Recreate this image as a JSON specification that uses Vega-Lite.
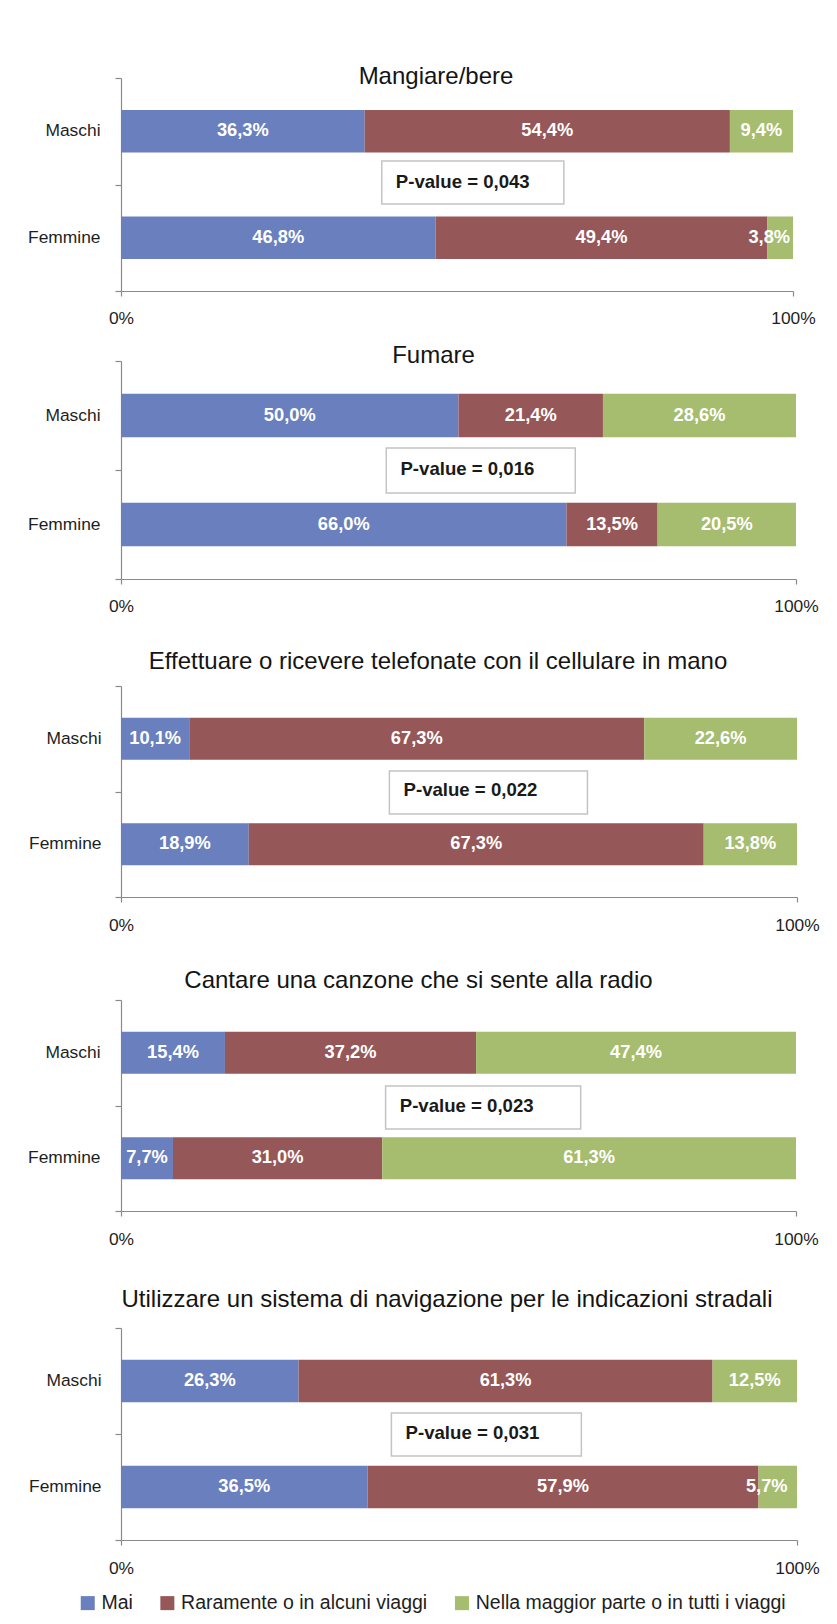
{
"$schema": "https://vega.github.io/schema/vega-lite/v6.json",
"background": "white",
"padding": {"left": 0, "top": 65, "right": 0, "bottom": 0},
"autosize": {"type": "pad"},
"datasets": {
"bars": [
{"q": "Mangiare/bere", "sesso": "Maschi", "risposta": "Mai", "v": 36.3},
{"q": "Mangiare/bere", "sesso": "Maschi", "risposta": "Raramente o in alcuni viaggi", "v": 54.4},
{"q": "Mangiare/bere", "sesso": "Maschi", "risposta": "Nella maggior parte o in tutti i viaggi", "v": 9.4},
{"q": "Mangiare/bere", "sesso": "Femmine", "risposta": "Mai", "v": 46.8},
{"q": "Mangiare/bere", "sesso": "Femmine", "risposta": "Raramente o in alcuni viaggi", "v": 49.4},
{"q": "Mangiare/bere", "sesso": "Femmine", "risposta": "Nella maggior parte o in tutti i viaggi", "v": 3.8},
{"q": "Fumare", "sesso": "Maschi", "risposta": "Mai", "v": 50.0},
{"q": "Fumare", "sesso": "Maschi", "risposta": "Raramente o in alcuni viaggi", "v": 21.4},
{"q": "Fumare", "sesso": "Maschi", "risposta": "Nella maggior parte o in tutti i viaggi", "v": 28.6},
{"q": "Fumare", "sesso": "Femmine", "risposta": "Mai", "v": 66.0},
{"q": "Fumare", "sesso": "Femmine", "risposta": "Raramente o in alcuni viaggi", "v": 13.5},
{"q": "Fumare", "sesso": "Femmine", "risposta": "Nella maggior parte o in tutti i viaggi", "v": 20.5},
{"q": "Effettuare o ricevere telefonate con il cellulare in mano", "sesso": "Maschi", "risposta": "Mai", "v": 10.1},
{"q": "Effettuare o ricevere telefonate con il cellulare in mano", "sesso": "Maschi", "risposta": "Raramente o in alcuni viaggi", "v": 67.3},
{"q": "Effettuare o ricevere telefonate con il cellulare in mano", "sesso": "Maschi", "risposta": "Nella maggior parte o in tutti i viaggi", "v": 22.6},
{"q": "Effettuare o ricevere telefonate con il cellulare in mano", "sesso": "Femmine", "risposta": "Mai", "v": 18.9},
{"q": "Effettuare o ricevere telefonate con il cellulare in mano", "sesso": "Femmine", "risposta": "Raramente o in alcuni viaggi", "v": 67.3},
{"q": "Effettuare o ricevere telefonate con il cellulare in mano", "sesso": "Femmine", "risposta": "Nella maggior parte o in tutti i viaggi", "v": 13.8},
{"q": "Cantare una canzone che si sente alla radio", "sesso": "Maschi", "risposta": "Mai", "v": 15.4},
{"q": "Cantare una canzone che si sente alla radio", "sesso": "Maschi", "risposta": "Raramente o in alcuni viaggi", "v": 37.2},
{"q": "Cantare una canzone che si sente alla radio", "sesso": "Maschi", "risposta": "Nella maggior parte o in tutti i viaggi", "v": 47.4},
{"q": "Cantare una canzone che si sente alla radio", "sesso": "Femmine", "risposta": "Mai", "v": 7.7},
{"q": "Cantare una canzone che si sente alla radio", "sesso": "Femmine", "risposta": "Raramente o in alcuni viaggi", "v": 31.0},
{"q": "Cantare una canzone che si sente alla radio", "sesso": "Femmine", "risposta": "Nella maggior parte o in tutti i viaggi", "v": 61.3},
{"q": "Utilizzare un sistema di navigazione per le indicazioni stradali", "sesso": "Maschi", "risposta": "Mai", "v": 26.3},
{"q": "Utilizzare un sistema di navigazione per le indicazioni stradali", "sesso": "Maschi", "risposta": "Raramente o in alcuni viaggi", "v": 61.3},
{"q": "Utilizzare un sistema di navigazione per le indicazioni stradali", "sesso": "Maschi", "risposta": "Nella maggior parte o in tutti i viaggi", "v": 12.5},
{"q": "Utilizzare un sistema di navigazione per le indicazioni stradali", "sesso": "Femmine", "risposta": "Mai", "v": 36.5},
{"q": "Utilizzare un sistema di navigazione per le indicazioni stradali", "sesso": "Femmine", "risposta": "Raramente o in alcuni viaggi", "v": 57.9},
{"q": "Utilizzare un sistema di navigazione per le indicazioni stradali", "sesso": "Femmine", "risposta": "Nella maggior parte o in tutti i viaggi", "v": 5.7}
],
"pv": [
{"q": "Mangiare/bere", "p": "P-value = 0,043"},
{"q": "Fumare", "p": "P-value = 0,016"},
{"q": "Effettuare o ricevere telefonate con il cellulare in mano", "p": "P-value = 0,022"},
{"q": "Cantare una canzone che si sente alla radio", "p": "P-value = 0,023"},
{"q": "Utilizzare un sistema di navigazione per le indicazioni stradali", "p": "P-value = 0,031"}
]
},
"concat": [
{
"width": 672, "height": 213,
"title": {"text": "Mangiare/bere", "offset": -12, "dx": -21},
"layer": [
{"layer": [
{"data": {"name": "bars"},
"transform": [{"filter": "datum.q === 'Mangiare/bere'"}, {"calculate": "indexof(['Mai','Raramente o in alcuni viaggi','Nella maggior parte o in tutti i viaggi'], datum.risposta)", "as": "ord"}],
"mark": {"type": "bar"},
"encoding": {
"y": {"field": "sesso", "type": "nominal", "sort": ["Maschi", "Femmine"], "scale": {"paddingInner": 0.6, "paddingOuter": 0.3}, "axis": {"title": null, "ticks": false, "domain": false, "labelPadding": 21, "minExtent": 121, "maxExtent": 121}},
"x": {"field": "v", "type": "quantitative", "stack": "normalize", "scale": {"domain": [0, 1]}, "axis": {"values": [0, 1], "format": ".0%", "labelFlush": false, "grid": false, "tickSize": 5, "labelPadding": 13, "title": null, "minExtent": 53, "maxExtent": 53}},
"color": {"field": "risposta", "type": "nominal", "scale": {"domain": ["Mai", "Raramente o in alcuni viaggi", "Nella maggior parte o in tutti i viaggi"], "range": ["#6A7FBD", "#955757", "#A6BC6F"]}, "legend": {"orient": "none", "legendX": -43, "legendY": 1515, "direction": "horizontal", "title": null, "symbolType": "square", "symbolSize": 196, "symbolStrokeWidth": 0, "labelFontSize": 19.5, "labelFont": "Liberation Sans", "labelColor": "#1e1e1e", "columnPadding": 24.6, "labelOffset": 4, "labelLimit": 600}},
"order": {"field": "ord"}
}},
{"data": {"name": "bars"},
"transform": [{"filter": "datum.q === 'Mangiare/bere'"}, {"calculate": "indexof(['Mai','Raramente o in alcuni viaggi','Nella maggior parte o in tutti i viaggi'], datum.risposta)", "as": "ord"}, {"calculate": "replace(format(datum.v, '.1f'), '.', ',') + '%'", "as": "lab"}],
"mark": {"type": "text", "font": "Liberation Sans", "fontSize": 18.3, "fontWeight": "bold", "fill": "white", "align": "center", "baseline": "middle", "dx": {"expr": "datum.v < 6 ? -11 : 0"}},
"encoding": {
"y": {"field": "sesso", "type": "nominal", "sort": ["Maschi", "Femmine"]},
"x": {"field": "v", "type": "quantitative", "stack": "normalize", "bandPosition": 0.5},
"detail": {"field": "risposta"},
"order": {"field": "ord"},
"text": {"field": "lab"}
}}
]},
{"layer": [
{"data": {"name": "pv"},
"transform": [{"filter": "datum.q === 'Mangiare/bere'"}],
"mark": {"type": "rect", "fill": "white", "stroke": "#c4c4c4", "strokeWidth": 1.5},
"encoding": {
"x": {"datum": 0.388}, "x2": {"datum": 0.659},
"y": {"datum": 0.408, "type": "quantitative", "scale": {"domain": [0, 1]}, "axis": {"orient": "left", "values": [0, 0.5, 1], "labels": false, "tickSize": 6, "grid": false, "title": null, "minExtent": 121, "maxExtent": 121}},
"y2": {"datum": 0.61}
}},
{"data": {"name": "pv"},
"transform": [{"filter": "datum.q === 'Mangiare/bere'"}],
"mark": {"type": "text", "font": "Liberation Sans", "fontSize": 18.6, "fontWeight": "bold", "fill": "#1a1a1a", "align": "left", "baseline": "middle"},
"encoding": {"x": {"datum": 0.409}, "y": {"datum": 0.51}, "text": {"field": "p"}}}
]}
],
"resolve": {"scale": {"y": "independent"}, "axis": {"y": "independent"}}
},
{
"width": 675, "height": 218,
"title": {"text": "Fumare", "offset": -8, "dx": -25},
"layer": [
{"layer": [
{"data": {"name": "bars"},
"transform": [{"filter": "datum.q === 'Fumare'"}, {"calculate": "indexof(['Mai','Raramente o in alcuni viaggi','Nella maggior parte o in tutti i viaggi'], datum.risposta)", "as": "ord"}],
"mark": {"type": "bar"},
"encoding": {
"y": {"field": "sesso", "type": "nominal", "sort": ["Maschi", "Femmine"], "scale": {"paddingInner": 0.6, "paddingOuter": 0.3}, "axis": {"title": null, "ticks": false, "domain": false, "labelPadding": 21, "minExtent": 121, "maxExtent": 121}},
"x": {"field": "v", "type": "quantitative", "stack": "normalize", "scale": {"domain": [0, 1]}, "axis": {"values": [0, 1], "format": ".0%", "labelFlush": false, "grid": false, "tickSize": 5, "labelPadding": 13, "title": null, "minExtent": 71, "maxExtent": 71}},
"color": {"field": "risposta", "type": "nominal", "scale": {"domain": ["Mai", "Raramente o in alcuni viaggi", "Nella maggior parte o in tutti i viaggi"], "range": ["#6A7FBD", "#955757", "#A6BC6F"]}, "legend": {"orient": "none", "legendX": -43, "legendY": 1515, "direction": "horizontal", "title": null, "symbolType": "square", "symbolSize": 196, "symbolStrokeWidth": 0, "labelFontSize": 19.5, "labelFont": "Liberation Sans", "labelColor": "#1e1e1e", "columnPadding": 24.6, "labelOffset": 4, "labelLimit": 600}},
"order": {"field": "ord"}
}},
{"data": {"name": "bars"},
"transform": [{"filter": "datum.q === 'Fumare'"}, {"calculate": "indexof(['Mai','Raramente o in alcuni viaggi','Nella maggior parte o in tutti i viaggi'], datum.risposta)", "as": "ord"}, {"calculate": "replace(format(datum.v, '.1f'), '.', ',') + '%'", "as": "lab"}],
"mark": {"type": "text", "font": "Liberation Sans", "fontSize": 18.3, "fontWeight": "bold", "fill": "white", "align": "center", "baseline": "middle"},
"encoding": {
"y": {"field": "sesso", "type": "nominal", "sort": ["Maschi", "Femmine"]},
"x": {"field": "v", "type": "quantitative", "stack": "normalize", "bandPosition": 0.5},
"detail": {"field": "risposta"},
"order": {"field": "ord"},
"text": {"field": "lab"}
}}
]},
{"layer": [
{"data": {"name": "pv"},
"transform": [{"filter": "datum.q === 'Fumare'"}],
"mark": {"type": "rect", "fill": "white", "stroke": "#c4c4c4", "strokeWidth": 1.5},
"encoding": {
"x": {"datum": 0.393}, "x2": {"datum": 0.673},
"y": {"datum": 0.394, "type": "quantitative", "scale": {"domain": [0, 1]}, "axis": {"orient": "left", "values": [0, 0.5, 1], "labels": false, "tickSize": 6, "grid": false, "title": null, "minExtent": 121, "maxExtent": 121}},
"y2": {"datum": 0.601}
}},
{"data": {"name": "pv"},
"transform": [{"filter": "datum.q === 'Fumare'"}],
"mark": {"type": "text", "font": "Liberation Sans", "fontSize": 18.6, "fontWeight": "bold", "fill": "#1a1a1a", "align": "left", "baseline": "middle"},
"encoding": {"x": {"datum": 0.414}, "y": {"datum": 0.505}, "text": {"field": "p"}}}
]}
],
"resolve": {"scale": {"y": "independent"}, "axis": {"y": "independent"}}
},
{
"width": 676, "height": 211,
"title": {"text": "Effettuare o ricevere telefonate con il cellulare in mano", "offset": 11, "dx": -21},
"layer": [
{"layer": [
{"data": {"name": "bars"},
"transform": [{"filter": "datum.q === 'Effettuare o ricevere telefonate con il cellulare in mano'"}, {"calculate": "indexof(['Mai','Raramente o in alcuni viaggi','Nella maggior parte o in tutti i viaggi'], datum.risposta)", "as": "ord"}],
"mark": {"type": "bar"},
"encoding": {
"y": {"field": "sesso", "type": "nominal", "sort": ["Maschi", "Femmine"], "scale": {"paddingInner": 0.6, "paddingOuter": 0.3}, "axis": {"title": null, "ticks": false, "domain": false, "labelPadding": 20, "minExtent": 118, "maxExtent": 118}},
"x": {"field": "v", "type": "quantitative", "stack": "normalize", "scale": {"domain": [0, 1]}, "axis": {"values": [0, 1], "format": ".0%", "labelFlush": false, "grid": false, "tickSize": 5, "labelPadding": 14, "title": null, "minExtent": 72, "maxExtent": 72}},
"color": {"field": "risposta", "type": "nominal", "scale": {"domain": ["Mai", "Raramente o in alcuni viaggi", "Nella maggior parte o in tutti i viaggi"], "range": ["#6A7FBD", "#955757", "#A6BC6F"]}, "legend": {"orient": "none", "legendX": -43, "legendY": 1515, "direction": "horizontal", "title": null, "symbolType": "square", "symbolSize": 196, "symbolStrokeWidth": 0, "labelFontSize": 19.5, "labelFont": "Liberation Sans", "labelColor": "#1e1e1e", "columnPadding": 24.6, "labelOffset": 4, "labelLimit": 600}},
"order": {"field": "ord"}
}},
{"data": {"name": "bars"},
"transform": [{"filter": "datum.q === 'Effettuare o ricevere telefonate con il cellulare in mano'"}, {"calculate": "indexof(['Mai','Raramente o in alcuni viaggi','Nella maggior parte o in tutti i viaggi'], datum.risposta)", "as": "ord"}, {"calculate": "replace(format(datum.v, '.1f'), '.', ',') + '%'", "as": "lab"}],
"mark": {"type": "text", "font": "Liberation Sans", "fontSize": 18.3, "fontWeight": "bold", "fill": "white", "align": "center", "baseline": "middle"},
"encoding": {
"y": {"field": "sesso", "type": "nominal", "sort": ["Maschi", "Femmine"]},
"x": {"field": "v", "type": "quantitative", "stack": "normalize", "bandPosition": 0.5},
"detail": {"field": "risposta"},
"order": {"field": "ord"},
"text": {"field": "lab"}
}}
]},
{"layer": [
{"data": {"name": "pv"},
"transform": [{"filter": "datum.q === 'Effettuare o ricevere telefonate con il cellulare in mano'"}],
"mark": {"type": "rect", "fill": "white", "stroke": "#c4c4c4", "strokeWidth": 1.5},
"encoding": {
"x": {"datum": 0.397}, "x2": {"datum": 0.69},
"y": {"datum": 0.393, "type": "quantitative", "scale": {"domain": [0, 1]}, "axis": {"orient": "left", "values": [0, 0.5, 1], "labels": false, "tickSize": 6, "grid": false, "title": null, "minExtent": 118, "maxExtent": 118}},
"y2": {"datum": 0.597}
}},
{"data": {"name": "pv"},
"transform": [{"filter": "datum.q === 'Effettuare o ricevere telefonate con il cellulare in mano'"}],
"mark": {"type": "text", "font": "Liberation Sans", "fontSize": 18.6, "fontWeight": "bold", "fill": "#1a1a1a", "align": "left", "baseline": "middle"},
"encoding": {"x": {"datum": 0.418}, "y": {"datum": 0.505}, "text": {"field": "p"}}}
]}
],
"resolve": {"scale": {"y": "independent"}, "axis": {"y": "independent"}}
},
{
"width": 675, "height": 211,
"title": {"text": "Cantare una canzone che si sente alla radio", "offset": 6, "dx": -40},
"layer": [
{"layer": [
{"data": {"name": "bars"},
"transform": [{"filter": "datum.q === 'Cantare una canzone che si sente alla radio'"}, {"calculate": "indexof(['Mai','Raramente o in alcuni viaggi','Nella maggior parte o in tutti i viaggi'], datum.risposta)", "as": "ord"}],
"mark": {"type": "bar"},
"encoding": {
"y": {"field": "sesso", "type": "nominal", "sort": ["Maschi", "Femmine"], "scale": {"paddingInner": 0.6, "paddingOuter": 0.3}, "axis": {"title": null, "ticks": false, "domain": false, "labelPadding": 21, "minExtent": 121, "maxExtent": 121}},
"x": {"field": "v", "type": "quantitative", "stack": "normalize", "scale": {"domain": [0, 1]}, "axis": {"values": [0, 1], "format": ".0%", "labelFlush": false, "grid": false, "tickSize": 5, "labelPadding": 14, "title": null, "minExtent": 77, "maxExtent": 77}},
"color": {"field": "risposta", "type": "nominal", "scale": {"domain": ["Mai", "Raramente o in alcuni viaggi", "Nella maggior parte o in tutti i viaggi"], "range": ["#6A7FBD", "#955757", "#A6BC6F"]}, "legend": {"orient": "none", "legendX": -43, "legendY": 1515, "direction": "horizontal", "title": null, "symbolType": "square", "symbolSize": 196, "symbolStrokeWidth": 0, "labelFontSize": 19.5, "labelFont": "Liberation Sans", "labelColor": "#1e1e1e", "columnPadding": 24.6, "labelOffset": 4, "labelLimit": 600}},
"order": {"field": "ord"}
}},
{"data": {"name": "bars"},
"transform": [{"filter": "datum.q === 'Cantare una canzone che si sente alla radio'"}, {"calculate": "indexof(['Mai','Raramente o in alcuni viaggi','Nella maggior parte o in tutti i viaggi'], datum.risposta)", "as": "ord"}, {"calculate": "replace(format(datum.v, '.1f'), '.', ',') + '%'", "as": "lab"}],
"mark": {"type": "text", "font": "Liberation Sans", "fontSize": 18.3, "fontWeight": "bold", "fill": "white", "align": "center", "baseline": "middle"},
"encoding": {
"y": {"field": "sesso", "type": "nominal", "sort": ["Maschi", "Femmine"]},
"x": {"field": "v", "type": "quantitative", "stack": "normalize", "bandPosition": 0.5},
"detail": {"field": "risposta"},
"order": {"field": "ord"},
"text": {"field": "lab"}
}}
]},
{"layer": [
{"data": {"name": "pv"},
"transform": [{"filter": "datum.q === 'Cantare una canzone che si sente alla radio'"}],
"mark": {"type": "rect", "fill": "white", "stroke": "#c4c4c4", "strokeWidth": 1.5},
"encoding": {
"x": {"datum": 0.392}, "x2": {"datum": 0.681},
"y": {"datum": 0.389, "type": "quantitative", "scale": {"domain": [0, 1]}, "axis": {"orient": "left", "values": [0, 0.5, 1], "labels": false, "tickSize": 6, "grid": false, "title": null, "minExtent": 121, "maxExtent": 121}},
"y2": {"datum": 0.592}
}},
{"data": {"name": "pv"},
"transform": [{"filter": "datum.q === 'Cantare una canzone che si sente alla radio'"}],
"mark": {"type": "text", "font": "Liberation Sans", "fontSize": 18.6, "fontWeight": "bold", "fill": "#1a1a1a", "align": "left", "baseline": "middle"},
"encoding": {"x": {"datum": 0.413}, "y": {"datum": 0.5}, "text": {"field": "p"}}}
]}
],
"resolve": {"scale": {"y": "independent"}, "axis": {"y": "independent"}}
},
{
"width": 676, "height": 212,
"title": {"text": "Utilizzare un sistema di navigazione per le indicazioni stradali", "offset": 15, "dx": -12},
"layer": [
{"layer": [
{"data": {"name": "bars"},
"transform": [{"filter": "datum.q === 'Utilizzare un sistema di navigazione per le indicazioni stradali'"}, {"calculate": "indexof(['Mai','Raramente o in alcuni viaggi','Nella maggior parte o in tutti i viaggi'], datum.risposta)", "as": "ord"}],
"mark": {"type": "bar"},
"encoding": {
"y": {"field": "sesso", "type": "nominal", "sort": ["Maschi", "Femmine"], "scale": {"paddingInner": 0.6, "paddingOuter": 0.3}, "axis": {"title": null, "ticks": false, "domain": false, "labelPadding": 20, "minExtent": 118, "maxExtent": 118}},
"x": {"field": "v", "type": "quantitative", "stack": "normalize", "scale": {"domain": [0, 1]}, "axis": {"values": [0, 1], "format": ".0%", "labelFlush": false, "grid": false, "tickSize": 5, "labelPadding": 14, "title": null, "minExtent": 40, "maxExtent": 40}},
"color": {"field": "risposta", "type": "nominal", "scale": {"domain": ["Mai", "Raramente o in alcuni viaggi", "Nella maggior parte o in tutti i viaggi"], "range": ["#6A7FBD", "#955757", "#A6BC6F"]}, "legend": {"orient": "none", "legendX": -43, "legendY": 1515, "direction": "horizontal", "title": null, "symbolType": "square", "symbolSize": 196, "symbolStrokeWidth": 0, "labelFontSize": 19.5, "labelFont": "Liberation Sans", "labelColor": "#1e1e1e", "columnPadding": 24.6, "labelOffset": 4, "labelLimit": 600}},
"order": {"field": "ord"}
}},
{"data": {"name": "bars"},
"transform": [{"filter": "datum.q === 'Utilizzare un sistema di navigazione per le indicazioni stradali'"}, {"calculate": "indexof(['Mai','Raramente o in alcuni viaggi','Nella maggior parte o in tutti i viaggi'], datum.risposta)", "as": "ord"}, {"calculate": "replace(format(datum.v, '.1f'), '.', ',') + '%'", "as": "lab"}],
"mark": {"type": "text", "font": "Liberation Sans", "fontSize": 18.3, "fontWeight": "bold", "fill": "white", "align": "center", "baseline": "middle", "dx": {"expr": "datum.v < 6 ? -11 : 0"}},
"encoding": {
"y": {"field": "sesso", "type": "nominal", "sort": ["Maschi", "Femmine"]},
"x": {"field": "v", "type": "quantitative", "stack": "normalize", "bandPosition": 0.5},
"detail": {"field": "risposta"},
"order": {"field": "ord"},
"text": {"field": "lab"}
}}
]},
{"layer": [
{"data": {"name": "pv"},
"transform": [{"filter": "datum.q === 'Utilizzare un sistema di navigazione per le indicazioni stradali'"}],
"mark": {"type": "rect", "fill": "white", "stroke": "#c4c4c4", "strokeWidth": 1.5},
"encoding": {
"x": {"datum": 0.4}, "x2": {"datum": 0.681},
"y": {"datum": 0.396, "type": "quantitative", "scale": {"domain": [0, 1]}, "axis": {"orient": "left", "values": [0, 0.5, 1], "labels": false, "tickSize": 6, "grid": false, "title": null, "minExtent": 118, "maxExtent": 118}},
"y2": {"datum": 0.599}
}},
{"data": {"name": "pv"},
"transform": [{"filter": "datum.q === 'Utilizzare un sistema di navigazione per le indicazioni stradali'"}],
"mark": {"type": "text", "font": "Liberation Sans", "fontSize": 18.6, "fontWeight": "bold", "fill": "#1a1a1a", "align": "left", "baseline": "middle"},
"encoding": {"x": {"datum": 0.421}, "y": {"datum": 0.505}, "text": {"field": "p"}}}
]}
],
"resolve": {"scale": {"y": "independent"}, "axis": {"y": "independent"}}
}
],
"columns": 1,
"align": "none",
"spacing": 0,
"bounds": "full",
"config": {
"view": {"stroke": null},
"axis": {"domainColor": "#8a8a8a", "tickColor": "#8a8a8a", "domainWidth": 1.2, "tickWidth": 1.2, "labelFont": "Liberation Sans", "labelFontSize": 17.4, "labelColor": "#1e1e1e", "labelOverlap": false},
"title": {"font": "Liberation Sans", "fontSize": 24, "fontWeight": "normal", "color": "#141414", "anchor": "middle", "baseline": "alphabetic", "frame": "group"}
}
}
